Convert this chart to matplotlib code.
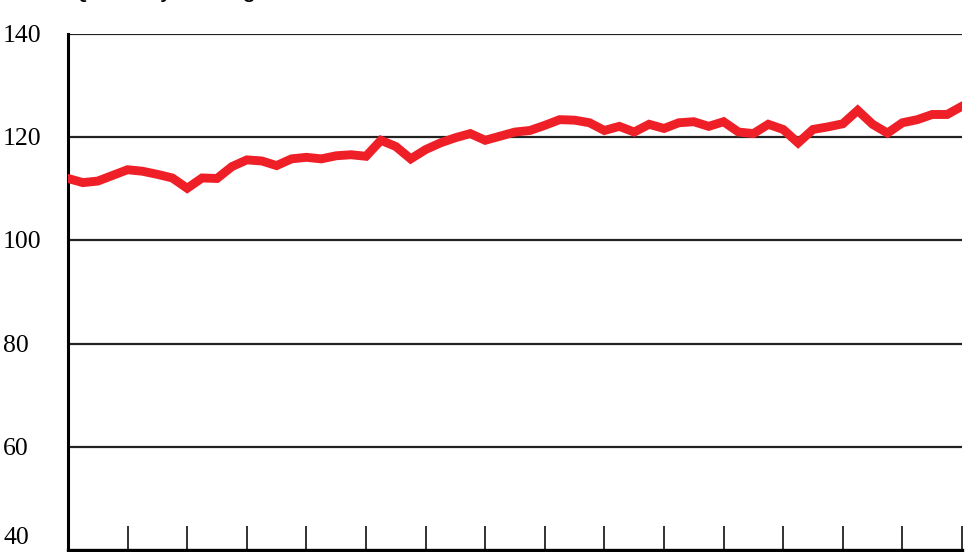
import matplotlib
matplotlib.use("Agg")
import matplotlib.pyplot as plt
from matplotlib.transforms import blended_transform_factory

# quarterly index values
index_values = [
    112.0, 111.2, 111.5, 112.6, 113.7, 113.4, 112.8, 112.1, 110.1, 112.1,
    112.0, 114.3, 115.6, 115.4, 114.5, 115.8, 116.1, 115.8, 116.4, 116.6,
    116.3, 119.4, 118.2, 115.8, 117.6, 118.9, 119.9, 120.7, 119.4, 120.2,
    121.0, 121.3, 122.3, 123.4, 123.3, 122.8, 121.3, 122.1, 121.0, 122.5,
    121.7, 122.8, 123.0, 122.1, 123.0, 121.0, 120.7, 122.5, 121.5, 118.9,
    121.5, 122.0, 122.6, 125.2, 122.5, 120.8, 122.8, 123.4, 124.4, 124.4,
    126.0,
]
quarters = list(range(len(index_values)))
year_ticks = list(range(0, 61, 4))
y_ticks = [40, 60, 80, 100, 120, 140]
title_text = "Quarterly average"

fig = plt.figure(figsize=(9.8, 5.52), dpi=100)
ax = fig.add_axes([68 / 980, 2 / 552, (962 - 68) / 980, (550 - 34) / 552])

ax.set_xlim(0, 60)
ax.set_ylim(40, 140)

# horizontal grid lines
for yv in y_ticks[1:]:
    ax.axhline(yv, color="#222222", linewidth=1.6, zorder=1)

ax.plot(quarters, index_values, color="#ee1f27", linewidth=6.4,
        solid_joinstyle="miter", zorder=3)

for side in ["top", "right"]:
    ax.spines[side].set_visible(False)
ax.spines["left"].set_linewidth(2.2)
ax.spines["bottom"].set_linewidth(2.4)

ax.set_xticks(year_ticks)
ax.set_xticklabels([])
ax.tick_params(axis="x", direction="in", length=17, width=1.3, color="#222222")

# y labels sit at the left edge of the figure
ax.set_yticks([])
trans = blended_transform_factory(fig.transFigure, ax.transData)
for yv in y_ticks:
    yy = yv + 2.3 if yv == 40 else yv - 0.4
    ax.text(3 / 980, yy, str(yv), transform=trans, fontsize=18.5,
            fontfamily="Liberation Serif", ha="left", va="center",
            clip_on=False)

# title is mostly cut off at the top edge, as in the source image
fig.text(70 / 980, 1 + 3.5 / 552, title_text, fontsize=18,
         fontfamily="Liberation Sans", va="baseline", ha="left")

fig.savefig("out.png", dpi=100)
